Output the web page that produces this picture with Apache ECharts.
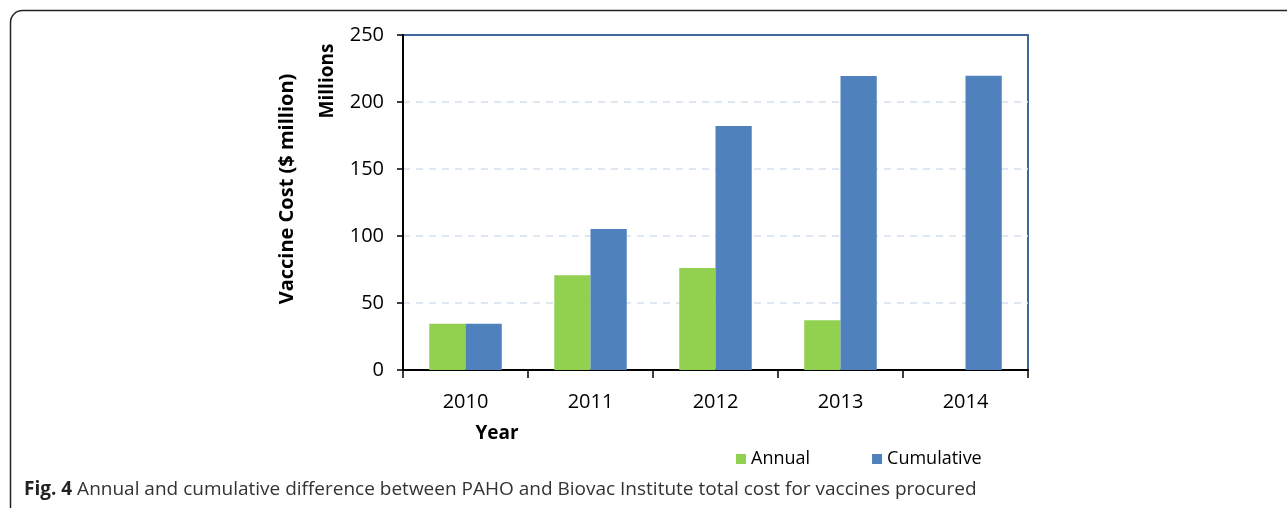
<!DOCTYPE html>
<html>
<head>
<meta charset="utf-8">
<script src="https://cdn.jsdelivr.net/npm/echarts@6/dist/echarts.min.js"></script>
<style>
html,body{margin:0;padding:0;background:#fff;}
#c{width:1287px;height:508px;}
</style>
</head>
<body>
<div id="c"></div>
<script>
const categories = ['2010', '2011', '2012', '2013', '2014'];
const annual = [34.6, 70.8, 76.2, 37.1, 0];
const cumulative = [34.6, 105.2, 182.0, 219.4, 219.6];
const yTicks = { min: 0, max: 250, interval: 50 };

const FONT = '"Open Sans", "Noto Sans", sans-serif';
const chart = echarts.init(document.getElementById('c'), null, { renderer: 'canvas' });
chart.setOption({
  animation: false,
  backgroundColor: '#fff',
  textStyle: { fontFamily: FONT },
  grid: {
    left: 403, right: 1287 - 1028, top: 35, bottom: 508 - 370,
    show: true, borderColor: '#40669a', borderWidth: 2, backgroundColor: 'transparent'
  },
  title: {
    left: 19, top: 475,
    text: '{b|Fig. 4} Annual and cumulative difference between PAHO and Biovac Institute total cost for vaccines procured',
    textStyle: {
      fontFamily: FONT, fontSize: 19, fontWeight: 'normal', color: '#333',
      rich: { b: { fontFamily: FONT, fontSize: 19, fontWeight: 'bold', color: '#222' } }
    }
  },
  legend: {
    left: 731, top: 445, itemWidth: 10, itemHeight: 10, itemGap: 62,
    icon: 'rect',
    textStyle: { fontFamily: FONT, fontSize: 18, color: '#000', padding: [0, 0, 0, 0] },
    data: ['Annual', 'Cumulative']
  },
  xAxis: {
    type: 'category', data: categories,
    axisLine: { lineStyle: { color: '#000', width: 2 } },
    axisTick: { show: true, length: 8, lineStyle: { color: '#000', width: 1.5 } },
    axisLabel: { fontFamily: FONT, fontSize: 20, color: '#000', margin: 22 },
    splitLine: { show: false }
  },
  yAxis: {
    type: 'value', min: yTicks.min, max: yTicks.max, interval: yTicks.interval,
    axisLine: { show: true, lineStyle: { color: '#000', width: 2 } },
    axisTick: { show: true, length: 6, lineStyle: { color: '#000', width: 1.5 } },
    axisLabel: { fontFamily: FONT, fontSize: 20, color: '#000', margin: 19 },
    splitLine: { show: true, showMaxLine: false, lineStyle: { color: '#d5dfee', type: [7, 6], width: 1.5 } }
  },
  series: [
    { name: 'Annual', type: 'bar', data: annual, barGap: '0%', barCategoryGap: '42%',
      itemStyle: { color: '#92d050' } },
    { name: 'Cumulative', type: 'bar', data: cumulative,
      itemStyle: { color: '#4f81bd' } }
  ],
  graphic: [
    { type: 'rect', shape: { x: 10.5, y: 10.5, width: 1320, height: 510, r: 12 },
      style: { fill: 'none', stroke: '#222', lineWidth: 1.5 }, silent: true, z: -1 },
    { type: 'text', x: 287, y: 189, rotation: Math.PI / 2, silent: true,
      style: { text: 'Vaccine Cost ($ million)', fontFamily: FONT, fontSize: 20, fontWeight: 'bold', fill: '#000',
        textAlign: 'center', textVerticalAlign: 'middle' } },
    { type: 'text', x: 328, y: 81, rotation: Math.PI / 2, silent: true,
      style: { text: 'Millions', fontFamily: FONT, fontSize: 19, fontWeight: 'bold', fill: '#000',
        textAlign: 'center', textVerticalAlign: 'middle' } },
    { type: 'text', x: 497, y: 434, silent: true,
      style: { text: 'Year', fontFamily: FONT, fontSize: 19, fontWeight: 'bold', fill: '#000',
        textAlign: 'center', textVerticalAlign: 'middle' } }
  ]
});
</script>
</body>
</html>
